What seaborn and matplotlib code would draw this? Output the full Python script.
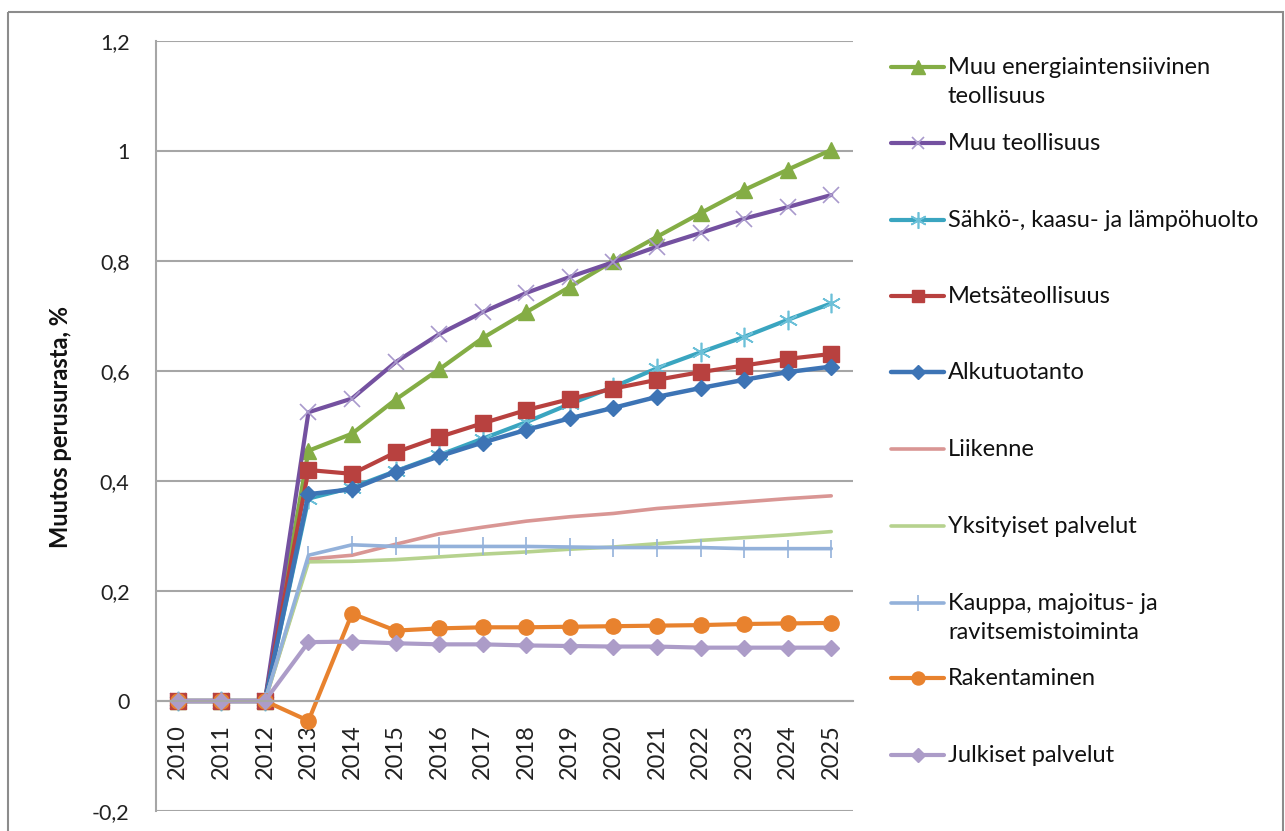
import matplotlib
matplotlib.use("Agg")
import matplotlib.pyplot as plt
from matplotlib.lines import Line2D
from matplotlib.patches import Rectangle
import seaborn as sns
import pandas as pd

years = list(range(2010, 2026))

muu_energia = [0, 0, 0, 0.455, 0.486, 0.548, 0.603, 0.660, 0.707, 0.753, 0.800, 0.844, 0.887, 0.929, 0.966, 1.002]
muu_teollisuus = [0, 0, 0, 0.525, 0.550, 0.616, 0.667, 0.707, 0.742, 0.771, 0.798, 0.826, 0.851, 0.877, 0.898, 0.920]
sahko = [0, 0, 0, 0.368, 0.388, 0.418, 0.447, 0.477, 0.507, 0.540, 0.571, 0.605, 0.634, 0.662, 0.693, 0.723]
metsa = [0, 0, 0, 0.420, 0.413, 0.452, 0.480, 0.505, 0.529, 0.549, 0.568, 0.584, 0.598, 0.610, 0.622, 0.631]
alkutuotanto = [0, 0, 0, 0.376, 0.385, 0.417, 0.445, 0.470, 0.493, 0.514, 0.533, 0.553, 0.569, 0.584, 0.598, 0.608]
liikenne = [0, 0, 0, 0.258, 0.265, 0.285, 0.304, 0.316, 0.327, 0.335, 0.341, 0.350, 0.356, 0.362, 0.368, 0.373]
yksityiset = [0, 0, 0, 0.253, 0.254, 0.257, 0.262, 0.267, 0.271, 0.276, 0.280, 0.286, 0.292, 0.297, 0.302, 0.308]
kauppa = [0, 0, 0, 0.265, 0.284, 0.281, 0.281, 0.281, 0.281, 0.280, 0.279, 0.279, 0.279, 0.277, 0.277, 0.277]
rakentaminen = [0, 0, 0, -0.036, 0.159, 0.128, 0.132, 0.134, 0.134, 0.135, 0.136, 0.137, 0.138, 0.140, 0.141, 0.142]
julkiset = [0, 0, 0, 0.107, 0.108, 0.105, 0.103, 0.103, 0.101, 0.100, 0.099, 0.099, 0.097, 0.097, 0.097, 0.097]

labels = ["Muu energiaintensiivinen\nteollisuus", "Muu teollisuus",
          "Sähkö-, kaasu- ja lämpöhuolto", "Metsäteollisuus", "Alkutuotanto",
          "Liikenne", "Yksityiset palvelut", "Kauppa, majoitus- ja\nravitsemistoiminta",
          "Rakentaminen", "Julkiset palvelut"]
series = [muu_energia, muu_teollisuus, sahko, metsa, alkutuotanto,
          liikenne, yksityiset, kauppa, rakentaminen, julkiset]

yticks = [-0.2, 0, 0.2, 0.4, 0.6, 0.8, 1.0, 1.2]
ytick_labels = ["-0,2", "0", "0,2", "0,4", "0,6", "0,8", "1", "1,2"]

# line color, marker, marker size, marker face, marker edge, edge width
styles = [
    ("#84AD45", "^", 12, "#84AD45", "#84AD45", 1),
    ("#7451A0", "x", 11, "none", "#A999CC", 1.2),
    ("#3AA5C0", (6, 2, 0), 14, "none", "#6CC0D8", 1.2),
    ("#B8413F", "s", 11, "#B8413F", "#B8413F", 1),
    ("#3D74B5", "D", 8.5, "#3D74B5", "#3D74B5", 1),
    ("#D99694", None, 0, "none", "none", 0),
    ("#B6D28E", None, 0, "none", "none", 0),
    ("#93B1DA", "|", 13, "none", "#93B1DA", 1.2),
    ("#E8822E", "o", 11, "#E8822E", "#E8822E", 1),
    ("#AC9CC8", "D", 8.5, "#AC9CC8", "#AC9CC8", 1),
]
widths = [3, 3, 3, 3, 3.2, 2.6, 2.6, 2.6, 3, 3]

sns.set_style("white")
plt.rcParams["font.family"] = ["Lato", "DejaVu Sans"]

W, H = 1285, 831
fig = plt.figure(figsize=(W / 100, H / 100), dpi=100)
ax = fig.add_axes([156 / W, 1 - 811 / H, (853 - 156) / W, (811 - 41) / H])

for vals, (col, mk, ms, mfc, mec, mew), lw in zip(series, styles, widths):
    df = pd.DataFrame({"year": years, "value": vals})
    kw = dict(color=col, linewidth=lw)
    if mk is not None:
        kw.update(marker=mk, markersize=ms, markerfacecolor=mfc,
                  markeredgecolor=mec, markeredgewidth=mew)
    sns.lineplot(data=df, x="year", y="value", ax=ax, legend=False, **kw)

# category axis crosses the value axis at zero (set before tick styling)
ax.spines["bottom"].set_position(("data", 0))
for s in ["top", "right"]:
    ax.spines[s].set_visible(False)
ax.spines["bottom"].set_color("#A6A6A6")
ax.spines["bottom"].set_linewidth(1.5)
ax.spines["left"].set_color("#A6A6A6")
ax.spines["left"].set_linewidth(1.5)

ax.set_xlim(2009.5, 2025.5)
ax.set_ylim(-0.2, 1.2)
ax.set_yticks(yticks)
ax.set_yticklabels(ytick_labels, fontsize=15.5, color="#222222")
ax.set_xticks(years)
ax.set_xticklabels([str(y) for y in years], rotation=90, fontsize=17,
                   color="#222222", va="top")
ax.tick_params(axis="x", length=0, pad=16.5)
ax.tick_params(axis="y", length=0, pad=19)
ax.yaxis.grid(True, color="#A6A6A6", linewidth=1.5)
ax.set_axisbelow(True)
ax.set_xlabel("")
ax.set_ylabel("")
fig.text(61 / W, 1 - 427 / H, "Muutos perusurasta, %", rotation=90,
         fontsize=17, fontweight="bold", ha="center", va="center", color="#111111")

# legend drawn on a pixel-coordinate overlay
lg = fig.add_axes([0, 0, 1, 1])
lg.set_xlim(0, W)
lg.set_ylim(H, 0)
lg.axis("off")
lg.patch.set_alpha(0)
legend_y = [67, 143, 220, 296, 372, 449, 526, 603, 678, 755]
for lab, y, (col, mk, ms, mfc, mec, mew), lw in zip(labels, legend_y, styles, widths):
    lg.add_line(Line2D([891, 944], [y, y], color=col, linewidth=lw))
    if mk is not None:
        lg.add_line(Line2D([917.5], [y], marker=mk, markersize=ms * 0.85,
                           markerfacecolor=mfc, markeredgecolor=mec,
                           markeredgewidth=mew, linestyle="none"))
    lg.text(948, y - 10, lab, fontsize=17, ha="left", va="top",
            color="#111111", linespacing=1.45)

lg.add_patch(Rectangle((8, 12), 1275, 840, fill=False, edgecolor="#8C8C8C",
                       linewidth=1.5, clip_on=False))

fig.savefig("out.png", dpi=100)
